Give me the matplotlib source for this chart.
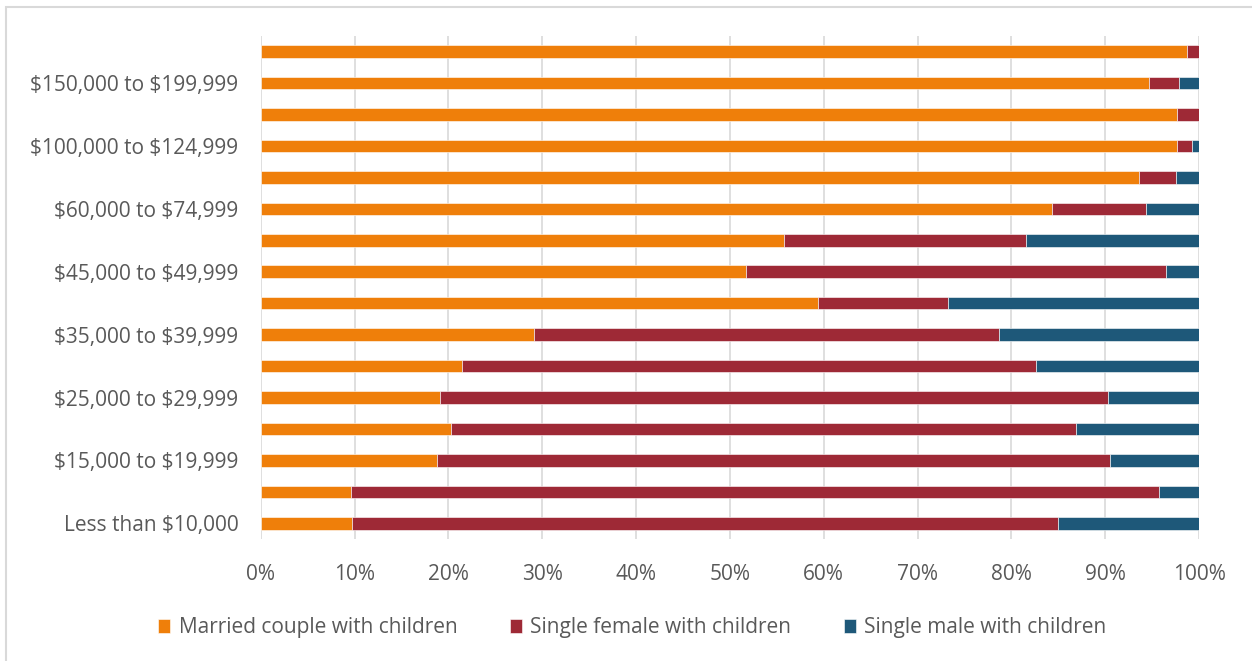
import matplotlib.pyplot as plt
from matplotlib.patches import Rectangle
from matplotlib.ticker import PercentFormatter
import numpy as np

plt.rcParams['font.family'] = ['Open Sans', 'DejaVu Sans']
plt.rcParams['text.parse_math'] = False

# income brackets, bottom to top
brackets = ['Less than $10,000', '$10,000 to $14,999', '$15,000 to $19,999',
            '$20,000 to $24,999', '$25,000 to $29,999', '$30,000 to $34,999',
            '$35,000 to $39,999', '$40,000 to $44,999', '$45,000 to $49,999',
            '$50,000 to $59,999', '$60,000 to $74,999', '$75,000 to $99,999',
            '$100,000 to $124,999', '$125,000 to $149,999', '$150,000 to $199,999',
            '$200,000 or more']

# share of families with children (%)
married = [9.7, 9.6, 18.8, 20.3, 19.1, 21.5, 29.1, 59.4, 51.7, 55.8, 84.3, 93.6, 97.6, 97.7, 94.7, 98.7]
single_female = [75.3, 86.1, 71.7, 66.6, 71.2, 61.1, 49.6, 13.9, 44.8, 25.8, 10.0, 3.9, 1.7, 2.3, 3.2, 1.3]
single_male = [15.0, 4.3, 9.5, 13.1, 9.7, 17.4, 21.3, 26.7, 3.5, 18.4, 5.7, 2.5, 0.7, 0.0, 2.1, 0.0]

series = [('Married couple with children', married, '#EF7F0A'),
          ('Single female with children', single_female, '#9E2936'),
          ('Single male with children', single_male, '#1E5879')]

fig = plt.figure(figsize=(12.52, 6.61), dpi=100)
ax = fig.add_axes([0.2082, 0.1846, 0.7495, 0.761])

y = np.arange(len(brackets))
left = np.zeros(len(brackets))
for name, vals, col in series:
    ax.barh(y, vals, left=left, height=0.4, color=col, label=name,
            edgecolor='white', linewidth=0.4, zorder=3)
    left += np.array(vals)

ax.set_xlim(0, 100)
ax.set_ylim(-0.5, len(brackets) - 0.5)
ax.set_xticks(np.arange(0, 101, 10))
ax.xaxis.set_major_formatter(PercentFormatter(decimals=0))
ax.set_yticks(y[::2])
ax.set_yticklabels(brackets[::2])
ax.tick_params(length=0, labelsize=15, colors='#595959')
ax.tick_params(axis='y', pad=16)
ax.tick_params(axis='x', pad=18)
ax.grid(axis='x', color='#d9d9d9', linewidth=1.2, zorder=0)
for s in ax.spines.values():
    s.set_visible(False)

fig.legend(loc='center', bbox_to_anchor=(0.505, 0.05), ncol=3, frameon=False,
           fontsize=15, labelcolor='#595959', handlelength=0.6, handleheight=0.6,
           handletextpad=0.4, columnspacing=2.5)

# light outer frame
fig.patches.append(Rectangle((6 / 1252, -0.1), 1.2, 1 - 6.5 / 661 + 0.1,
                             transform=fig.transFigure, fill=False,
                             edgecolor='#d9d9d9', linewidth=1.5))

fig.savefig('out.png', dpi=100)
